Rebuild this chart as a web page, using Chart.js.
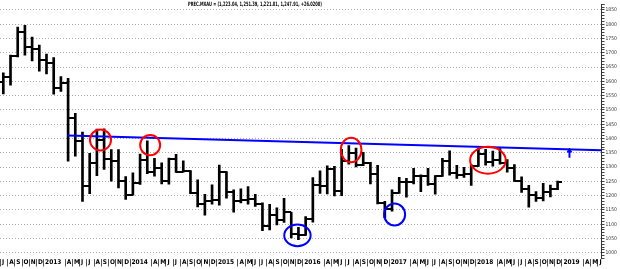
<!DOCTYPE html>
<html><head><meta charset="utf-8">
<script src="https://cdn.jsdelivr.net/npm/chart.js@4.4.1/dist/chart.umd.min.js"></script>
<style>html,body{margin:0;padding:0;background:#fff;overflow:hidden}canvas{display:block}</style>
</head><body>
<canvas id="c" width="620" height="269"></canvas>
<script>
const TITLE = 'PREC.MXAU = (1,223.04, 1,251.39, 1,221.01, 1,247.91, +26.0200)';

// one tick label per month, Jul 2012 .. Jun 2019 (F and M hidden after year labels)
const TICK_LABELS = [
  'J','A','S','O','N','D',
  '2013','','','A','M','J','J','A','S','O','N','D',
  '2014','','','A','M','J','J','A','S','O','N','D',
  '2015','','','A','M','J','J','A','S','O','N','D',
  '2016','','','A','M','J','J','A','S','O','N','D',
  '2017','','','A','M','J','J','A','S','O','N','D',
  '2018','','','A','M','J','J','A','S','O','N','D',
  '2019','','','A','M','J'
];

// monthly OHLC, Jul 2012 .. Dec 2018
const OPEN  = [1598,1614,1690,1772,1719,1712,1675,1663,1578,1596,1472,1393,1234,1313,1395,1327,1323,1250,1202,1244,1326,1284,1296,1250,1327,1282,1287,1210,1171,1182,1184,1283,1213,1183,1184,1190,1172,1095,1132,1115,1142,1065,1061,1118,1238,1233,1293,1215,1322,1351,1309,1316,1277,1173,1152,1211,1249,1249,1268,1269,1242,1269,1322,1280,1271,1275,1303,1345,1318,1325,1315,1298,1253,1224,1201,1192,1214,1223.04];
const HIGH  = [1630,1692,1790,1796,1755,1727,1696,1683,1617,1611,1488,1423,1348,1433,1434,1361,1361,1267,1280,1346,1392,1331,1315,1332,1345,1322,1288,1255,1205,1238,1307,1284,1220,1224,1232,1205,1175,1170,1157,1191,1142,1089,1127,1263,1287,1304,1303,1362,1375,1367,1352,1317,1306,1180,1220,1264,1261,1296,1273,1296,1270,1331,1357,1306,1299,1309,1366,1362,1356,1365,1326,1309,1266,1236,1214,1243,1237,1251.39];
const LOW   = [1556,1587,1686,1692,1672,1636,1626,1555,1565,1321,1338,1180,1207,1270,1292,1251,1227,1187,1202,1239,1277,1268,1241,1240,1281,1282,1207,1161,1132,1170,1167,1191,1142,1175,1170,1162,1077,1080,1098,1106,1052,1046,1061,1107,1208,1206,1199,1200,1310,1301,1305,1241,1171,1123,1146,1208,1195,1241,1214,1236,1205,1267,1272,1260,1264,1236,1302,1307,1303,1310,1282,1250,1211,1160,1180,1182,1196,1221.01];
const CLOSE = [1614,1690,1772,1719,1712,1675,1663,1578,1596,1472,1393,1234,1313,1395,1327,1323,1250,1202,1244,1326,1284,1296,1250,1327,1282,1287,1210,1171,1182,1184,1283,1213,1183,1184,1190,1172,1095,1132,1115,1142,1065,1061,1118,1238,1233,1293,1215,1322,1351,1309,1316,1277,1173,1152,1211,1249,1249,1268,1269,1242,1269,1322,1280,1271,1275,1303,1345,1318,1325,1315,1298,1253,1224,1201,1192,1214,1222,1247.91];

// annotations (month index, price)
const TREND_X = [8.92, 83.1];
const TREND_Y = [1411, 1359];
const ARROW_X = [78.65, 78.65];
const ARROW_Y = [1333, 1357];
const RED_MARK_X = [13.5, 20.4, 48.32, 67.32];
const RED_MARK_Y = [1395, 1377, 1360, 1324];
const BLUE_MARK_X = [40.86, 54.36];
const BLUE_MARK_Y = [1061, 1134];

const X_MIN = -0.46, X_MAX = 83.1, Y_MIN = 980, Y_MAX = 1871;

const FONT = "'Liberation Sans Narrow','Arial Narrow','DejaVu Sans Condensed',sans-serif";
const RED_RADII = [[10.5,10.5],[10,10.2],[10.3,12.3],[17.8,13.4]];
const BLUE_RADII = [[13.2,10.8],[10.5,11]];

function tickImage(side) {
  const c = document.createElement('canvas');
  c.width = 8; c.height = 2;
  const g = c.getContext('2d');
  g.fillStyle = '#000';
  g.fillRect(side < 0 ? 0 : 4, 0, 4, 2);
  return c;
}

const markPlugin = {
  id: 'marks',
  afterDatasetsDraw(chart) {
    const {ctx, scales: {x, y}} = chart;
    const draw = (xs, ys, radii, color) => {
      ctx.save();
      ctx.strokeStyle = color; ctx.lineWidth = 2;
      xs.forEach((xv, k) => {
        ctx.beginPath();
        ctx.ellipse(x.getPixelForValue(xv), y.getPixelForValue(ys[k]), radii[k][0], radii[k][1], 0, 0, Math.PI * 2);
        ctx.stroke();
      });
      ctx.restore();
    };
    draw(RED_MARK_X, RED_MARK_Y, RED_RADII, '#ff0000');
    draw(BLUE_MARK_X, BLUE_MARK_Y, BLUE_RADII, '#0000ff');
  }
};

const titlePlugin = {
  id: 'ttl',
  afterDraw(chart) {
    const ctx = chart.ctx;
    ctx.save();
    ctx.font = 'bold 6px ' + FONT;
    const w = ctx.measureText(TITLE).width;
    const targetW = 134, left = 188;
    const sx = targetW / w;
    ctx.fillStyle = '#fff';
    ctx.fillRect(left - 2, 1, targetW + 4, 8);
    ctx.translate(left, 4.6);
    ctx.scale(sx, 1);
    ctx.fillStyle = '#000';
    ctx.textAlign = 'left';
    ctx.textBaseline = 'middle';
    ctx.fillText(TITLE, 0, 0);
    ctx.restore();
  }
};

const idx = OPEN.map((_, i) => i);

new Chart(document.getElementById('c'), {
  type: 'scatter',
  data: {
    datasets: [
      { type: 'line', data: TREND_X.map((v, k) => ({x: v, y: TREND_Y[k]})), borderColor: '#0000ff', borderWidth: 2, pointRadius: 0, showLine: true, fill: false },
      { type: 'line', data: ARROW_X.map((v, k) => ({x: v, y: ARROW_Y[k]})), borderColor: '#0000ff', borderWidth: 2, showLine: true, fill: false,
        pointRadius: [0, 2.6], pointStyle: 'triangle', pointBackgroundColor: '#0000ff', pointBorderColor: '#0000ff', pointBorderWidth: 1 },
      { type: 'scatter', data: idx.map(i => ({x: i, y: OPEN[i]})), pointStyle: tickImage(-1), pointRadius: 2 },
      { type: 'scatter', data: idx.map(i => ({x: i, y: CLOSE[i]})), pointStyle: tickImage(1), pointRadius: 2 },
      { type: 'bar', data: idx.map(i => ({x: i, y: [LOW[i], HIGH[i]]})), backgroundColor: '#000', borderWidth: 0, barThickness: 2, grouped: false }
    ]
  },
  options: {
    responsive: false, maintainAspectRatio: false, animation: false, events: [],
    layout: { padding: 0, autoPadding: false },
    plugins: { legend: { display: false }, tooltip: { enabled: false }, title: { display: false } },
    scales: {
      x: {
        type: 'linear', min: X_MIN, max: X_MAX, bounds: 'data', offset: false, position: 'bottom',
        afterBuildTicks: s => { s.ticks = TICK_LABELS.map((_, i) => ({value: i - 0.4})); },
        afterFit: s => { s.height = 10.5; },
        ticks: { autoSkip: false, maxRotation: 0, minRotation: 0, align: 'start', labelOffset: 1.5, padding: -7.6,
                 color: '#000', font: {family: FONT, size: 6.5, weight: 'bold'}, callback: (v, i) => TICK_LABELS[i] },
        grid: { offset: false, drawOnChartArea: false, drawTicks: true, tickLength: 8, tickWidth: 1,
                tickColor: c => TICK_LABELS[c.index] ? '#555' : 'rgba(0,0,0,0)' },
        border: { display: false }
      },
      y: {
        type: 'linear', position: 'right', min: Y_MIN, max: Y_MAX, bounds: 'data',
        afterFit: s => { s.width = 18.5; },
        ticks: { stepSize: 10, autoSkip: false, includeBounds: false, padding: 1, color: '#333',
                 font: {family: FONT, size: 5}, callback: v => (v % 50 === 0 ? v : '') },
        grid: { color: c => (c.tick && c.tick.value % 50 === 0 ? '#aaaaaa' : 'rgba(0,0,0,0)'), lineWidth: 1,
                drawTicks: true, tickLength: 3, tickColor: '#444', tickWidth: 1 },
        border: { display: true, color: '#333', width: 1, dash: [1, 2] }
      }
    }
  },
  plugins: [markPlugin, titlePlugin]
});
</script>
</body></html>
